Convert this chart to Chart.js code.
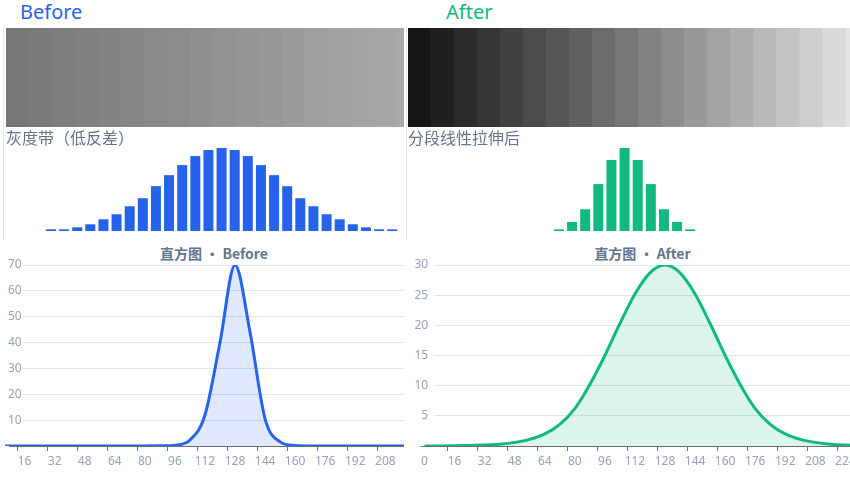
<!DOCTYPE html>
<html>
<head>
<meta charset="utf-8">
<script src="https://cdn.jsdelivr.net/npm/chart.js@4.4.1/dist/chart.umd.min.js"></script>
<style>
html, body { margin: 0; padding: 0; background: #fff; }
body { width: 850px; height: 477px; overflow: hidden; position: relative; font-family: "Noto Sans", "Noto Sans CJK SC", sans-serif; }
.abs { position: absolute; }
.clip { position: absolute; overflow: hidden; }
.head { position: absolute; top: -1px; font-size: 20px; line-height: 26px; }
.panel { position: absolute; top: 25px; height: 215px; width: 1px; background: #e2e8f0; }
.cap { position: absolute; top: 128px; font-family: "Noto Sans CJK SC", sans-serif; font-size: 16px; line-height: 18px; color: #64748b; white-space: nowrap; }
.ttl { position: absolute; top: 244px; font-family: "Noto Sans CJK SC", sans-serif; font-weight: bold; font-size: 14px; line-height: 18px; color: #64748b; white-space: nowrap; transform: translateX(-50%); }
</style>
</head>
<body>
<div class="head" style="left:20px;color:#2563eb">Before</div>
<div class="head" style="left:446px;color:#10b981">After</div>

<div class="panel" style="left:3px"></div>
<div class="panel" style="left:406px"></div>

<!-- grey bands -->
<div class="clip" style="left:6px;top:28px;width:398px;height:99px">
  <div class="abs" style="left:0;top:0;width:461px;height:99px"><canvas id="bandBefore"></canvas></div>
</div>
<div class="abs" style="left:408px;top:28px;width:484px;height:99px"><canvas id="bandAfter"></canvas></div>

<div class="cap" style="left:6px">灰度带（低反差）</div>
<div class="cap" style="left:408px">分段线性拉伸后</div>

<!-- small histograms -->
<div class="clip" style="left:5px;top:148px;width:399px;height:83px">
  <div class="abs" style="left:0;top:0;width:420px;height:83px"><canvas id="miniBefore"></canvas></div>
</div>
<div class="abs" style="left:408.4px;top:148px;width:420px;height:83px"><canvas id="miniAfter"></canvas></div>

<!-- big histograms -->
<div class="ttl" style="left:214px">直方图 • Before</div>
<div class="ttl" style="left:642.5px">直方图 • After</div>

<div class="clip" style="left:5px;top:240px;width:399px;height:237px">
  <div class="abs" style="left:-27.8px;top:15px;width:511px;height:221px"><canvas id="histBefore"></canvas></div>
</div>
<div class="abs" style="left:406.7px;top:255px;width:511px;height:221px"><canvas id="histAfter"></canvas></div>

<script>
Chart.defaults.font.family = '"Noto Sans", sans-serif';

// grey level of each band stripe
const bandBeforeGrays = [119, 122, 125, 128, 131, 134, 137, 140, 143, 146, 149, 152, 155, 158, 161, 164, 167, 170, 173, 176];
const bandAfterGrays = [21, 32, 43, 54, 65, 76, 86, 97, 108, 119, 130, 141, 152, 163, 174, 185, 195, 206, 217, 228, 239];

// small bar histograms (32 bins, relative height %)
const miniBeforeVals = [0, 0, 0, 2, 2, 4.4, 8.1, 14.1, 20.2, 29.8, 39.5, 54, 67.3, 79.4, 90.3, 97.6, 100,
  97.6, 90.3, 79.4, 67.3, 54, 39.5, 29.8, 20.2, 14.1, 8.1, 4.4, 2, 2, 0, 0];
const miniAfterVals = [0, 0, 0, 0, 0, 0, 0, 0, 0, 0, 0, 2, 10.9, 26.2, 56.5, 85.5, 100,
  85.5, 56.5, 26.2, 10.9, 2, 0, 0, 0, 0, 0, 0, 0, 0, 0, 0];

// big histograms: bin start values (width 8) and counts
const BIN = 8;
const bins = [0, 8, 16, 24, 32, 40, 48, 56, 64, 72, 80, 88, 96, 104, 112, 120,
  128, 136, 144, 152, 160, 168, 176, 184, 192, 200, 208, 216, 224, 232, 240, 248];
const beforeCounts = [0, 0, 0, 0, 0, 0, 0, 0, 0, 0, 0, 0.05, 0.3, 2.3, 12, 40,
  70, 44, 10.5, 1.6, 0.2, 0.03, 0, 0, 0, 0, 0, 0, 0, 0, 0, 0];
const afterCounts = [0, 0, 0.05, 0.1, 0.15, 0.3, 0.6, 1.1, 2.0, 3.6, 6.2, 10.2, 15.0, 20.3, 25.2, 28.7,
  30, 28.7, 25.2, 20.3, 15.0, 10.2, 6.2, 3.6, 2.0, 1.1, 0.6, 0.3, 0.15, 0.1, 0.05, 0];

const noPlugins = { legend: { display: false }, tooltip: { enabled: false } };

function bandConfig(grays) {
  return {
    type: 'bar',
    data: {
      labels: grays.map((g, i) => i),
      datasets: [{
        data: grays.map(() => 1),
        backgroundColor: grays.map(g => `rgb(${g},${g},${g})`),
        barPercentage: 1,
        categoryPercentage: 1,
        borderWidth: 0
      }]
    },
    options: {
      animation: false,
      responsive: true,
      maintainAspectRatio: false,
      layout: { padding: 0 },
      plugins: noPlugins,
      scales: { x: { display: false }, y: { display: false, min: 0, max: 1 } }
    }
  };
}

function miniConfig(vals, color) {
  return {
    type: 'bar',
    data: {
      labels: bins.map(String),
      datasets: [{ data: vals, backgroundColor: color, barPercentage: 0.762, categoryPercentage: 1, borderWidth: 0 }]
    },
    options: {
      animation: false,
      responsive: true,
      maintainAspectRatio: false,
      layout: { padding: 0 },
      plugins: noPlugins,
      scales: { x: { display: false }, y: { display: false, min: 0, max: Math.max(...vals) } }
    }
  };
}

// y labels sit inside the plot (mirror); a figure space keeps them right-aligned
function histConfig(counts, color, fill, yMax, yStep, labelPad, backdrop) {
  return {
    type: 'line',
    data: {
      datasets: [{
        data: bins.map((b, i) => ({ x: b + BIN / 2, y: counts[i] })),
        borderColor: color,
        backgroundColor: fill,
        fill: 'origin',
        borderWidth: 3,
        pointRadius: 0,
        cubicInterpolationMode: 'monotone'
      }]
    },
    options: {
      animation: false,
      responsive: true,
      maintainAspectRatio: false,
      layout: { padding: { left: 10, right: 20, top: 10, bottom: 0 } },
      plugins: noPlugins,
      scales: {
        x: {
          type: 'linear',
          min: 0,
          max: 256,
          ticks: { stepSize: 16, autoSkip: false, maxRotation: 0, labelOffset: 7.5, padding: 3, color: '#94a3b8', font: { size: 12 } },
          grid: { drawOnChartArea: false, drawTicks: true, tickLength: 5, color: '#6e7079' },
          border: { display: true, color: '#6e7079' },
          afterFit: s => { s.height = 30; }
        },
        y: {
          min: 0,
          max: yMax,
          ticks: {
            stepSize: yStep,
            mirror: true,
            padding: labelPad,
            color: '#94a3b8',
            font: { size: 12 },
            callback: v => (v === 0 ? '' : String(v).padStart(2, '\u2007')),
            showLabelBackdrop: true,
            backdropColor: '#ffffff',
            backdropPadding: backdrop
          },
          grid: { color: '#e0e6f1', drawTicks: false },
          border: { display: false },
          afterFit: s => { s.width = 0; s.paddingTop = 0; s.paddingBottom = 0; }
        }
      }
    }
  };
}

new Chart(document.getElementById('bandBefore'), bandConfig(bandBeforeGrays));
new Chart(document.getElementById('bandAfter'), bandConfig(bandAfterGrays));
new Chart(document.getElementById('miniBefore'), miniConfig(miniBeforeVals, '#2563eb'));
new Chart(document.getElementById('miniAfter'), miniConfig(miniAfterVals, '#10b981'));
new Chart(document.getElementById('histBefore'),
  histConfig(beforeCounts, '#2563eb', 'rgba(37,99,235,0.15)', 70, 10, 21, { left: 12, right: 1, top: 2, bottom: 2 }));
new Chart(document.getElementById('histAfter'),
  histConfig(afterCounts, '#10b981', 'rgba(16,185,129,0.15)', 30, 5, -2.5, { left: 3, right: 6, top: 2, bottom: 2 }));
</script>
</body>
</html>
